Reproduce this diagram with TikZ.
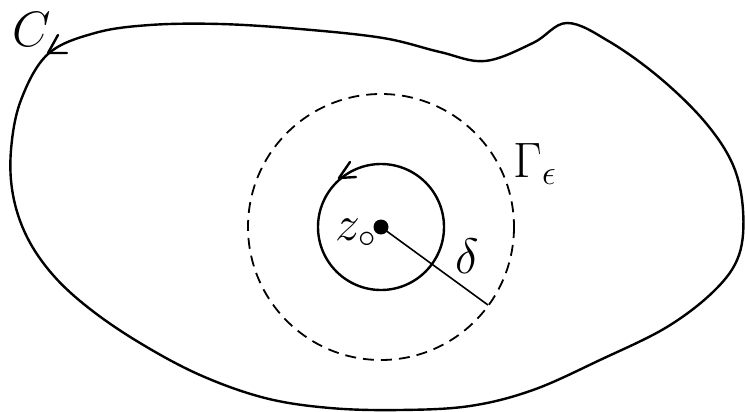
\documentclass[tikz,border=0pt]{standalone}
\usetikzlibrary{calc}
\begin{document}
\begin{tikzpicture}[x=1pt,y=-1pt,
  curve/.style={line width=2.4pt,line join=round,line cap=round},
  thinline/.style={line width=1.6pt},
  dashcircle/.style={line width=1.8pt,dash pattern=on 11pt off 7pt},
  lbl/.style={inner sep=0pt,anchor=base west,scale=2,font=\fontsize{24}{24}\selectfont}]
\useasboundingbox (0,0) rectangle (745,412);
% outer contour C
\draw[curve] plot[smooth cycle,tension=0.6] coordinates {
 (48,54) (95,33) (150,25) (220,24) (300,29) (383,38) (440,52) (485,61)
 (533,43) (567,23) (610,42) (660,78) (705,122) (733,165) (743,210)
 (739,255) (715,290) (667,327) (600,360) (533,390) (470,406) (400,410)
 (330,408) (265,398) (200,375) (140,343) (90,309) (53,275) (27,237)
 (13,195) (11,150) (21,100)};
% arrow on C
\coordinate (ca) at (58,35);
\coordinate (ct) at (48,53);
\coordinate (cb) at (67,53);
\draw[curve] (ca) -- (ct) -- (cb);
% circles
\coordinate (z) at (381,227);
\draw[dashcircle] (z) circle[radius=133];
\draw[curve] (z) circle[radius=63];
\coordinate (dend) at (488,305);
\draw[thinline] (z) -- (dend);
\fill (z) circle[radius=7.5];
% arrow on small circle
\coordinate (sa) at (350,162);
\coordinate (st) at (339,178);
\coordinate (sb) at (356,177);
\draw[curve] (sa) -- (st) -- (sb);
% labels
\node[lbl] (lC) at (12,47) {$C$};
\node[lbl] (lG) at (513,177) {$\Gamma_{\epsilon}$};
\node[lbl] (lz) at (335,240) {$z_{\circ}$};
\node[lbl] (ld) at (455,273) {$\delta$};
\end{tikzpicture}
\end{document}
